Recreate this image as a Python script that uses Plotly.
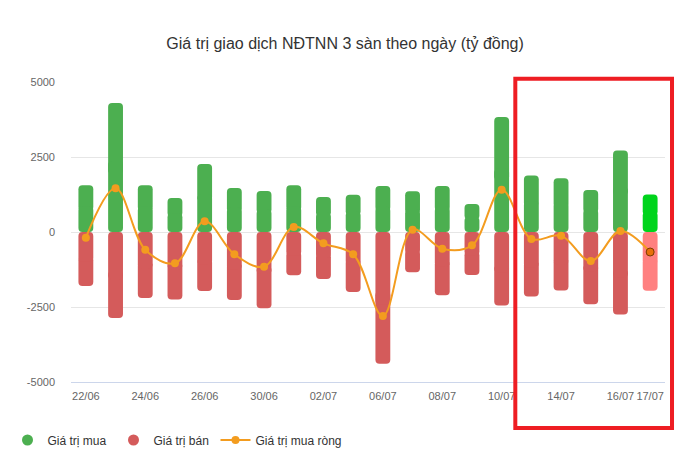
import plotly.graph_objects as go

dates = ["22/06", "23/06", "24/06", "25/06", "26/06", "29/06", "30/06", "01/07", "02/07", "03/07",
         "06/07", "07/07", "08/07", "09/07", "10/07", "13/07", "14/07", "15/07", "16/07", "17/07"]
buy = [1560, 4300, 1560, 1130, 2270, 1470, 1370, 1560, 1170, 1240,
       1530, 1360, 1530, 930, 3830, 1880, 1790, 1400, 2720, 1250]
sell = [-1800, -2870, -2200, -2250, -1970, -2270, -2540, -1440, -1570, -2000,
        -4390, -1340, -2110, -1430, -2450, -2150, -1950, -2410, -2750, -1960]
net = [-190, 1456, -590, -1044, 356, -744, -1156, 167, -378, -744,
       -2800, 78, -556, -444, 1411, -233, -122, -967, 33, -667]
tick_dates = ["22/06", "24/06", "26/06", "30/06", "02/07", "06/07", "08/07", "10/07", "14/07", "16/07", "17/07"]
y_ticks = [-5000, -2500, 0, 2500, 5000]

GREEN, GREEN_HI = "#4caf50", "#00d41c"
RED, RED_HI = "#d45b5b", "#ff8080"
ORANGE, ORANGE_HI = "#f39c1f", "#e8700a"
FONT = "Liberation Sans, Arial, sans-serif"

n = len(dates)
buy_colors = [GREEN] * (n - 1) + [GREEN_HI]
sell_colors = [RED] * (n - 1) + [RED_HI]

fig = go.Figure()


def add_rounded_bar(values, colors, name):
    # two overlapping pieces so that both ends of each bar get rounded corners
    outer_base = [v * 0.45 for v in values]
    outer_len = [v * 0.55 for v in values]
    inner_base = [v * 0.55 for v in values]
    inner_len = [-v * 0.55 for v in values]
    for b, l in ((outer_base, outer_len), (inner_base, inner_len)):
        fig.add_trace(go.Bar(
            x=dates, y=l, base=b, name=name,
            marker=dict(color=colors, cornerradius=4, line=dict(width=0)),
            width=0.5, showlegend=False, hoverinfo="skip"))


add_rounded_bar(buy, buy_colors, "Giá trị mua")
add_rounded_bar(sell, sell_colors, "Giá trị bán")

fig.add_trace(go.Scatter(
    x=dates, y=net, mode="lines+markers", name="Giá trị mua ròng",
    line=dict(color=ORANGE, width=2, shape="spline", smoothing=1.0),
    marker=dict(size=8, color=[ORANGE] * (n - 1) + [ORANGE_HI],
                line=dict(color=[ORANGE] * (n - 1) + ["#7a3a00"], width=[0] * (n - 1) + [1])),
    showlegend=False))

# legend entries
fig.add_trace(go.Scatter(x=[None], y=[None], mode="markers", name="Giá trị mua",
                         marker=dict(color=GREEN, size=11), legendwidth=61))
fig.add_trace(go.Scatter(x=[None], y=[None], mode="markers", name="Giá trị bán",
                         marker=dict(color=RED, size=11), legendwidth=57))
fig.add_trace(go.Scatter(x=[None], y=[None], mode="lines+markers", name="Giá trị mua ròng",
                         line=dict(color=ORANGE, width=2), marker=dict(color=ORANGE, size=8),
                         legendwidth=110))

fig.update_layout(
    width=700, height=462,
    margin=dict(l=71, r=35, t=82, b=80, autoexpand=False),
    paper_bgcolor="white", plot_bgcolor="white",
    barmode="overlay",
    font=dict(family=FONT, color="#666666", size=11),
    title=dict(text="Giá trị giao dịch NĐTNN 3 sàn theo ngày (tỷ đồng)",
               x=0.493, xanchor="center", y=0.907, yanchor="middle", yref="container",
               font=dict(family=FONT, size=16, color="#333333")),
    xaxis=dict(type="category", categoryorder="array", categoryarray=dates,
               tickmode="array", tickvals=tick_dates, ticktext=tick_dates,
               showgrid=False, showline=True, linecolor="#ccd6eb", linewidth=1,
               ticks="", tickfont=dict(size=11, color="#666666"), zeroline=False,
               ticklabelstandoff=4, range=[-0.5, n - 0.5]),
    yaxis=dict(range=[-5000, 5000], tickvals=y_ticks, ticktext=[str(v) for v in y_ticks],
               showgrid=True, gridcolor="#e6e6e6", gridwidth=1, zeroline=False,
               tickfont=dict(size=11, color="#666666"), ticklabelstandoff=15),
    legend=dict(orientation="h", xref="container", yref="container",
                x=0.0107, xanchor="left", y=0.0476, yanchor="middle",
                font=dict(size=12, color="#333333"), itemwidth=30),
    shapes=[dict(type="rect", xref="paper", yref="paper", x0=0.748, x1=1.0118, y0=-0.153, y1=1.011,
                 line=dict(color="#ee1d23", width=4), fillcolor="rgba(0,0,0,0)", layer="above")],
)

fig.write_html("out.html")
